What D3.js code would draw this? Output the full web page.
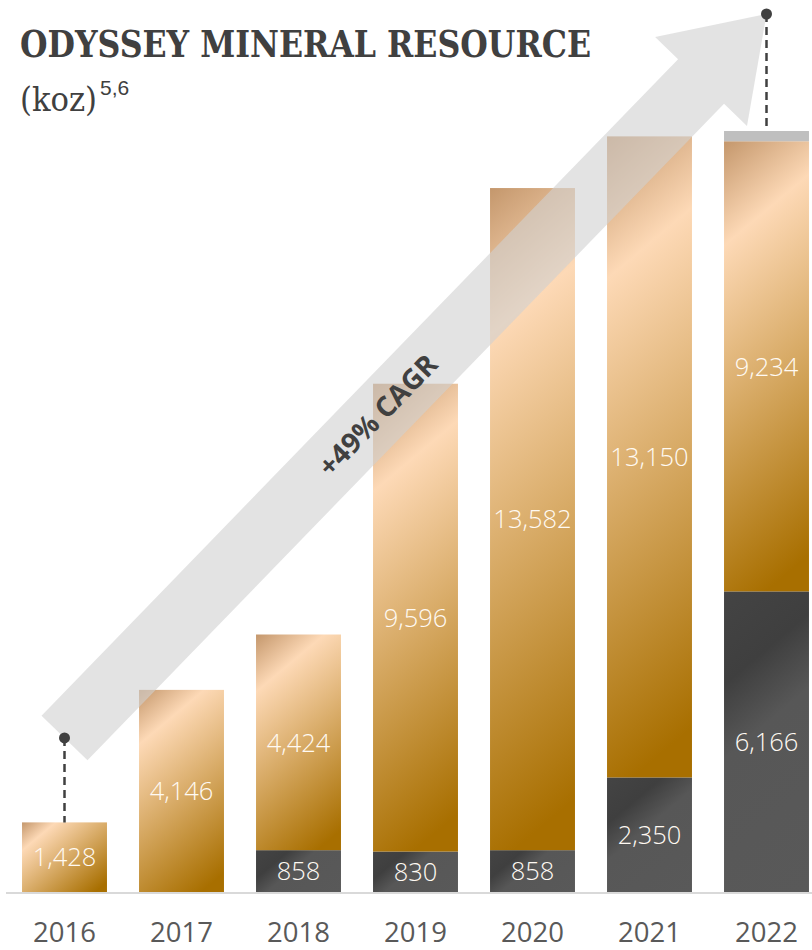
<!DOCTYPE html>
<html><head><meta charset="utf-8">
<script src="https://cdn.jsdelivr.net/npm/d3@7"></script>
<style>html,body{margin:0;padding:0;background:#fff;overflow:hidden}</style>
</head><body>
<svg id="chart" width="812" height="950"></svg>
<script>
// ---- data ----
const years = ['2016','2017','2018','2019','2020','2021','2022'];
const darkValues   = [0, 0, 858, 830, 858, 2350, 6166];
const copperValues = [1428, 4146, 4424, 9596, 13582, 13150, 9234];
const greyValues   = [0, 0, 0, 0, 0, 0, 210];
const seriesKeys = ['dark', 'copper', 'grey'];
const titleText = 'ODYSSEY MINERAL RESOURCE';
const unitText = '(koz)';
const unitSup = '5,6';
const cagrLabel = '+49% CAGR';
const cagrStart = {year: '2016', value: 3160};
const cagrEnd = {year: '2022', value: 18010};

const svg = d3.select('#chart');
const defs = svg.append('defs');

const rows = years.map((y, i) => ({year: y, dark: darkValues[i], copper: copperValues[i], grey: greyValues[i]}));
const stack = d3.stack().keys(seriesKeys)(rows);

const x = d3.scaleBand().domain(years).range([6, 825]).paddingInner(0.274).paddingOuter(0.137);
const y = d3.scaleLinear().domain([0, 16000]).range([892, 112]);

// gradients
const gradStops = {
  copper: [[0, '#c4976c'], [0.2, '#fdd9b6'], [0.93, '#a86f00'], [1, '#a86f00']],
  dark: [[0, '#444444'], [0.25, '#3f3f3f'], [0.45, '#575757'], [1, '#595959']],
};
const ang = 50 * Math.PI / 180;
const dx = Math.cos(ang), dy = Math.sin(ang);

const segs = [];
stack.forEach(s => s.forEach((d, i) => {
  if (d[1] - d[0] > 0) segs.push({key: s.key, year: rows[i].year, v0: d[0], v1: d[1], val: d[1] - d[0]});
}));

const gBars = svg.append('g');
segs.forEach((s, k) => {
  const x0 = x(s.year), w = x.bandwidth();
  const yTop = y(s.v1), h = y(s.v0) - y(s.v1);
  let fill = '#bfbfbf';
  if (gradStops[s.key]) {
    const id = 'g' + k;
    const L = w * dx + h * dy;
    const lg = defs.append('linearGradient').attr('id', id).attr('gradientUnits', 'userSpaceOnUse')
      .attr('x1', x0).attr('y1', yTop).attr('x2', x0 + dx * L).attr('y2', yTop + dy * L);
    gradStops[s.key].forEach(st => lg.append('stop').attr('offset', st[0]).attr('stop-color', st[1]));
    fill = `url(#${id})`;
  }
  gBars.append('rect').attr('x', x0).attr('y', yTop).attr('width', w).attr('height', h).attr('fill', fill);
  if (s.key !== 'grey') {
    gBars.append('text').attr('x', x0 + w / 2).attr('y', yTop + h / 2).attr('dy', '0.36em')
      .attr('text-anchor', 'middle').attr('fill', '#fffaf3')
      .style('font-family', '"Open Sans", sans-serif').style('font-weight', 350).style('font-size', '25.5px')
      .text(d3.format(',')(s.val));
  }
});

// baseline
svg.append('line').attr('x1', 6).attr('x2', 812).attr('y1', y(0) + 1).attr('y2', y(0) + 1)
  .attr('stroke', '#d9d9d9').attr('stroke-width', 2);

// x axis labels
const xAxis = d3.axisBottom(x).tickSize(0).tickPadding(0);
const gx = svg.append('g').attr('transform', `translate(0,${y(0)})`).call(xAxis);
gx.select('.domain').remove();
gx.selectAll('text').attr('y', 50).attr('dy', 0)
  .attr('fill', '#595959').style('font-family', '"Open Sans", sans-serif').style('font-weight', 400).style('font-size', '27.5px');

// arrow
const p0 = [x(cagrStart.year) + x.bandwidth() / 2, y(cagrStart.value)];
const p1 = [x(cagrEnd.year) + x.bandwidth() / 2, y(cagrEnd.value)];
const len = Math.hypot(p1[0] - p0[0], p1[1] - p0[1]);
const u = [(p1[0] - p0[0]) / len, (p1[1] - p0[1]) / len];
const n = [-u[1], u[0]];
const sw = 32, hw = 64, hl = 94;
const pt = (t, s) => [p0[0] + u[0] * t + n[0] * s, p0[1] + u[1] * t + n[1] * s];
const arrowPts = [pt(0, sw), pt(len - hl, sw), pt(len - hl, hw), pt(len, 0), pt(len - hl, -hw), pt(len - hl, -sw), pt(0, -sw)];
svg.append('path').attr('d', d3.line()(arrowPts) + 'Z').attr('fill', '#d0d0d0').attr('fill-opacity', 0.6);

const angDeg = Math.atan2(u[1], u[0]) * 180 / Math.PI;
const c = pt(len * 0.446, 0);
svg.append('text').attr('transform', `translate(${c[0]},${c[1]}) rotate(${angDeg})`)
  .attr('text-anchor', 'middle').attr('dy', '0.36em').attr('fill', '#404040')
  .style('font-family', '"Open Sans", sans-serif').style('font-weight', 700).style('font-size', '28px')
  .text(cagrLabel);

// dashed leaders and dots
const tot = years.map((yy, i) => darkValues[i] + copperValues[i] + greyValues[i]);
[[cagrStart, 0], [cagrEnd, years.length - 1]].forEach(([pnt, i]) => {
  const cx = x(pnt.year) + x.bandwidth() / 2;
  svg.append('line').attr('x1', cx).attr('x2', cx).attr('y1', y(pnt.value)).attr('y2', y(tot[i]))
    .attr('stroke', '#404040').attr('stroke-width', 2.5).attr('stroke-dasharray', '8,5');
  svg.append('circle').attr('cx', cx).attr('cy', y(pnt.value)).attr('r', 5.5).attr('fill', '#404040');
});

// title
svg.append('text').attr('x', 20).attr('y', 57).attr('fill', '#404040')
  .attr('textLength', 571).attr('lengthAdjust', 'spacingAndGlyphs')
  .style('font-family', '"DejaVu Serif Condensed", "DejaVu Serif", serif').style('font-weight', 700).style('font-size', '37px')
  .text(titleText);
const ut = svg.append('text').attr('x', 20).attr('y', 111).attr('fill', '#404040')
  .style('font-family', '"DejaVu Serif Condensed", "DejaVu Serif", serif').style('font-size', '33px');
ut.append('tspan').attr('textLength', 77).attr('lengthAdjust', 'spacingAndGlyphs').text(unitText);
ut.append('tspan').attr('dy', -16).attr('dx', 3).style('font-size', '21px').style('font-family', '"Liberation Sans", Arial, sans-serif').text(unitSup);
</script>
</body></html>
